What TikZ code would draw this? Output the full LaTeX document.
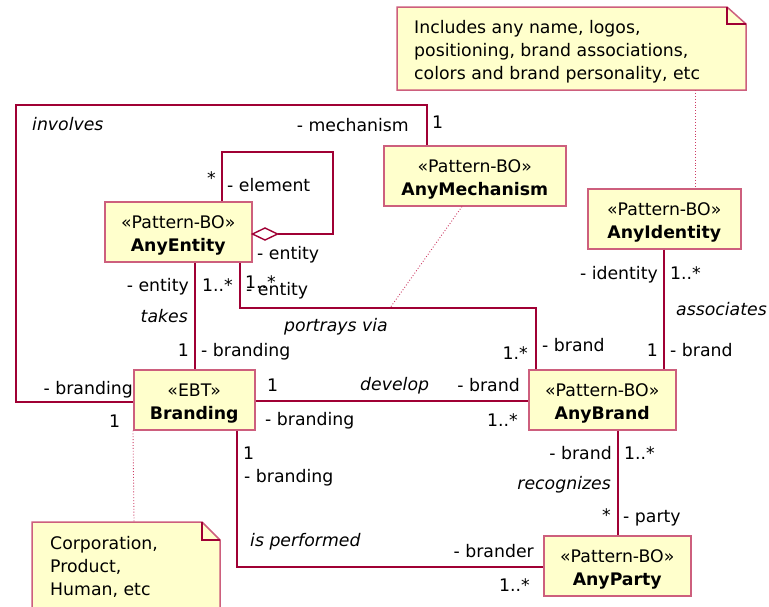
\documentclass[tikz,border=0pt]{standalone}
\usepackage{fontspec}
\setmainfont{DejaVu Sans}
\definecolor{linec}{RGB}{160,0,52}
\definecolor{boxc}{RGB}{205,95,125}
\definecolor{fillc}{RGB}{255,255,204}
\definecolor{dotc}{RGB}{205,60,100}
\tikzset{
  cls/.style={draw=boxc, fill=fillc, line width=1.5pt, minimum height=60pt, inner sep=0pt},
  assoc/.style={draw=linec, line width=1.4pt},
  dotln/.style={draw=dotc, line width=0.9pt, dotted},
  notebox/.style={draw=boxc, fill=fillc, line width=1.5pt},
  fold/.style={draw=linec, line width=1.4pt},
  lbl/.style={inner sep=0pt},
  every node/.style={font=\fontsize{17.3}{23}\selectfont, inner sep=0pt}
}
\newcommand\umlclass[6]{%
  \node[cls, anchor=north west, minimum width=#4pt] (#1) at (#2,#3) {};
  \node[anchor=base] (#1s) at ([yshift=-27pt]#1.north) {«#5»};
  \node[anchor=base] (#1t) at ([yshift=-50pt]#1.north) {\bfseries #6};
}
\begin{document}
\begin{tikzpicture}[x=1pt, y=-1pt]
\useasboundingbox (0,0) rectangle (769,606);
\fill[white] (0,0) rectangle (769,606);

% notes
\path[notebox] (397,7) -- (727,7) -- (746,24) -- (746,90) -- (397,90) -- cycle;
\draw[fold] (727,7) -- (727,24) -- (746,24);
\node[anchor=base west] (n1a) at (414,33) {Includes any name, logos,};
\node[anchor=base west] (n1b) at (414,56) {positioning, brand associations,};
\node[anchor=base west] (n1c) at (414,79) {colors and brand personality, etc};
\coordinate (n1bot) at (695,90);

\path[notebox] (32,522) -- (202,522) -- (220,540) -- (220,620) -- (32,620) -- cycle;
\draw[fold] (202,522) -- (202,540) -- (220,540);
\node[anchor=base west] (n2a) at (50,549) {Corporation,};
\node[anchor=base west] (n2b) at (50,572) {Product,};
\node[anchor=base west] (n2c) at (50,595) {Human, etc};
\coordinate (n2top) at (134,522);

% classes
\umlclass{ent}{104}{201}{147}{Pattern-BO}{AnyEntity}
\umlclass{mech}{383}{145}{182}{Pattern-BO}{AnyMechanism}
\umlclass{ident}{587}{188}{153}{Pattern-BO}{AnyIdentity}
\umlclass{brd}{133}{369}{121}{EBT}{Branding}
\umlclass{brand}{528}{369}{147}{Pattern-BO}{AnyBrand}
\umlclass{party}{543}{535}{147}{Pattern-BO}{AnyParty}

% coordinates for bends
\coordinate (inv1) at (16,402);
\coordinate (inv2) at (16,105);
\coordinate (inv3) at (427,105);
\coordinate (sl1) at (222,152);
\coordinate (sl2) at (333,152);
\coordinate (sl3) at (333,234);
\coordinate (tk) at (195,300);
\coordinate (pv1) at (240,308);
\coordinate (pv2) at (536,308);
\coordinate (dv) at (300,401);
\coordinate (pf1) at (237,567);
\coordinate (rc) at (618,480);
\coordinate (as) at (664,300);
\coordinate (mdx) at (462,0);
\coordinate (pvd) at (390,308);

% associations
\draw[assoc] (brd.west |- inv1) -- (inv1) -- (inv2) -- (inv3) -- (mech.north -| inv3);
\coordinate (dtip) at (ent.east |- sl3);
\draw[assoc] (ent.north -| sl1) -- (sl1) -- (sl2) -- (sl3) -- ([xshift=25pt]dtip);
\draw[assoc, fill=white] (dtip) -- ++(12.5,-6) -- ++(12.5,6) -- ++(-12.5,6) -- cycle;
\draw[assoc] (ent.south -| tk) -- (brd.north -| tk);
\draw[assoc] (ent.south -| pv1) -- (pv1) -- (pv2) -- (brand.north -| pv2);
\draw[assoc] (brd.east |- dv) -- (brand.west |- dv);
\draw[assoc] (brd.south -| pf1) -- (pf1) -- (party.west |- pf1);
\draw[assoc] (brand.south -| rc) -- (party.north -| rc);
\draw[assoc] (ident.south -| as) -- (brand.north -| as);

% dotted anchors
\draw[dotln] (n1bot) -- (ident.north -| n1bot);
\draw[dotln] (mech.south -| mdx) -- (pvd);
\draw[dotln] (brd.south west) -- (n2top);

% labels
\node[anchor=base west] (l1) at (32,130.5) {\itshape involves};
\node[anchor=base east] (l2) at (409,131.5) {- mechanism};
\node[anchor=base west] (l3) at (432,128) {1};
\node[anchor=base east] (l4) at (216,184) {*};
\node[anchor=base west] (l5) at (227,191.5) {- element};
\node[anchor=base west] (l6) at (257,259) {- entity};
\node[anchor=base east] (l7) at (189,291) {- entity};
\node[anchor=base west] (l8) at (202,291) {1..*};
\node[anchor=base west] (l9) at (245,288) {1..*};
\node[anchor=base west] (l10) at (246,295) {- entity};
\node[anchor=base east] (l11) at (188,322.7) {\itshape takes};
\node[anchor=base west] (l12) at (284,331) {\itshape portrays via};
\node[anchor=base east] (l13) at (189,356) {1};
\node[anchor=base west] (l14) at (201,356) {- branding};
\node[anchor=base east] (l15) at (133,394) {- branding};
\node[anchor=base west] (l16) at (109,427.7) {1};
\node[anchor=base west] (l17) at (267,391) {1};
\node[anchor=base west] (l18) at (360,390) {\itshape develop};
\node[anchor=base west] (l19) at (265,425) {- branding};
\node[anchor=base west] (l20) at (243,459) {1};
\node[anchor=base west] (l21) at (244,482) {- branding};
\node[anchor=base west] (l22) at (250,546.7) {\itshape is performed};
\node[anchor=base east] (l23) at (528,359) {1.*};
\node[anchor=base west] (l24) at (542,351) {- brand};
\node[anchor=base east] (l25) at (658,356) {1};
\node[anchor=base west] (l26) at (670,356.7) {- brand};
\node[anchor=base west] (l27) at (676,315.7) {\itshape associates};
\node[anchor=base east] (l28) at (520,391) {- brand};
\node[anchor=base east] (l29) at (518,426) {1..*};
\node[anchor=base east] (l30) at (612,459) {- brand};
\node[anchor=base west] (l31) at (624,459) {1..*};
\node[anchor=base east] (l32) at (611,489) {\itshape recognizes};
\node[anchor=base east] (l33) at (611,521) {*};
\node[anchor=base west] (l34) at (623,522.7) {- party};
\node[anchor=base east] (l35) at (534,557) {- brander};
\node[anchor=base east] (l36) at (530,591.7) {1..*};
\node[anchor=base east] (l37) at (658,279) {- identity};
\node[anchor=base west] (l38) at (670,279) {1..*};
\end{tikzpicture}
\end{document}
